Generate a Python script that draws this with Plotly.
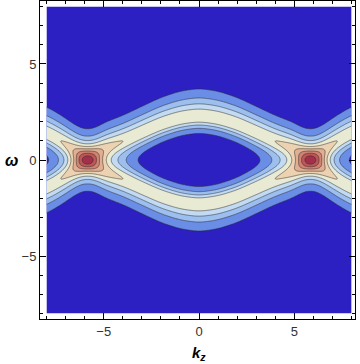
import numpy as np
import plotly.graph_objects as go

# ---- values ----
# upper branch of the dispersion omega(k_z) (the lower branch is its mirror -omega)
k_read = [0.0, 1.0, 2.0, 3.0, 4.0, 5.0, 5.85, 6.5, 7.0, 7.5, 8.0, 8.5]
eps_read = [2.28, 2.15, 1.85, 1.42, 0.98, 0.62, 0.0, -0.5, -0.85, -1.15, -1.4, -1.6]
# line-shape widths
w_cross = 0.55   # width at the band crossing (omega = 0)
a_outer = 0.04   # width growth with |omega| on the side away from omega = 0
a_inner = 0.075  # width shrink with |omega| on the side toward omega = 0
peak = 0.97      # height of a single band

# contour levels and bin colours
level_start, level_end, level_step = 0.2, 1.8, 0.2
bin_colors = ["#2c20c3", "#6a8de6", "#9dbff0", "#c2dbf3", "#e9ead3",
              "#ecd2b1", "#e0ae92", "#d18472", "#bd5656", "#a3304a"]
x_ticks = [-5, 0, 5]
y_ticks = [-5, 0, 5]

# ---- build the field ----
kk = np.linspace(-8, 8, 401)
ww = np.linspace(-8, 8, 401)

ks = np.linspace(-9, 9, 1801)
eps_lin = np.interp(np.abs(ks), k_read, eps_read)
dx = ks[1] - ks[0]
sig = 0.3
kx = np.arange(-4 * sig, 4 * sig + dx, dx)
kern = np.exp(-kx**2 / (2 * sig**2)); kern /= kern.sum()
eps_s = np.convolve(eps_lin, kern, mode="same")
eps_k = np.interp(kk, ks, eps_s)

K, W = np.meshgrid(kk, ww)
E = np.broadcast_to(eps_k[None, :], K.shape)
Z = np.zeros_like(K)
for e in (E, -E):
    u = W - e
    a = np.where(u * e > 0, a_outer, a_inner)
    w = w_cross + a * e * np.tanh(3 * u)
    Z += peak / np.cosh(u / w)

n = len(bin_colors)
colorscale = [[i / (n - 1), c] for i, c in enumerate(bin_colors)]

fig = go.Figure(go.Contour(
    x=kk, y=ww, z=Z,
    autocontour=False,
    contours=dict(start=level_start, end=level_end, size=level_step,
                  coloring="fill", showlines=True),
    colorscale=colorscale,
    line=dict(color="rgba(45,45,45,0.75)", width=0.7),
    showscale=False, hoverinfo="skip",
))

axis_common = dict(
    showline=True, linecolor="black", linewidth=1, mirror="allticks",
    ticks="inside", ticklen=6, tickcolor="black", tickwidth=1,
    showgrid=False, zeroline=False,
    tickfont=dict(family="Liberation Sans, Arial, sans-serif", size=13, color="#333"),
    minor=dict(ticks="inside", ticklen=3, tickcolor="black", dtick=1, tick0=0, showgrid=False),
)
fig.update_xaxes(range=[-8.34, 8.18], tickvals=x_ticks, **axis_common)
fig.update_yaxes(range=[-8.28, 8.28], tickvals=y_ticks, **axis_common)

fig.update_layout(
    width=360, height=364,
    margin=dict(l=40, r=5, t=1, b=45),
    paper_bgcolor="white", plot_bgcolor="white",
    showlegend=False,
    annotations=[
        dict(text="<b><i>ω</i></b>", xref="paper", yref="paper",
             x=-0.089, y=0.5, xanchor="center", yanchor="middle", showarrow=False,
             font=dict(family="Liberation Sans, Arial, sans-serif", size=16, color="black")),
        dict(text="<b><i>k</i></b><sub><b><i>z</i></b></sub>", xref="x", yref="paper",
             x=0, y=-0.11, xanchor="center", yanchor="middle", showarrow=False,
             font=dict(family="Liberation Sans, Arial, sans-serif", size=15, color="black")),
    ],
)

fig.write_html("out.html")
